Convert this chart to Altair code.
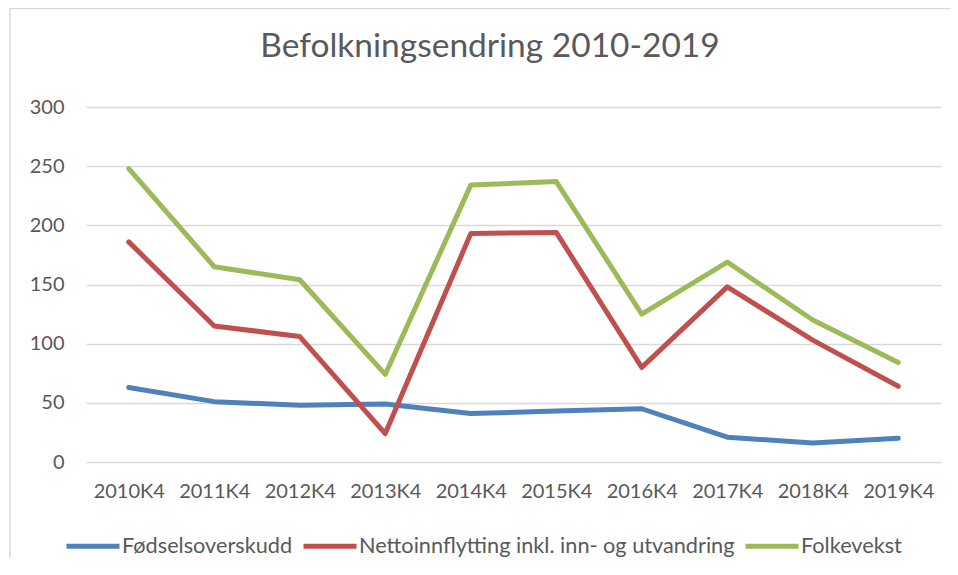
import altair as alt
import pandas as pd

categories = ["2010K4", "2011K4", "2012K4", "2013K4", "2014K4",
              "2015K4", "2016K4", "2017K4", "2018K4", "2019K4"]
fodselsoverskudd = [63, 51, 48, 49, 41, 43, 45, 21, 16, 20]
nettoinnflytting = [186, 115, 106, 24, 193, 194, 80, 148, 103, 64]
folkevekst = [248, 165, 154, 74, 234, 237, 125, 169, 120, 84]

series_names = ["Fødselsoverskudd", "Nettoinnflytting inkl. inn- og utvandring", "Folkevekst"]
series_colors = ["#4F81BD", "#C0504D", "#9BBB59"]
y_ticks = [0, 50, 100, 150, 200, 250, 300]
chart_title = "Befolkningsendring 2010-2019"

rows = []
for name, vals in zip(series_names, [fodselsoverskudd, nettoinnflytting, folkevekst]):
    for c, v in zip(categories, vals):
        rows.append({"kvartal": c, "verdi": v, "serie": name})
df = pd.DataFrame(rows)

FONT = "Lato"
GREY = "#595959"

lines = alt.Chart(df).mark_line(strokeWidth=5, strokeCap="round", strokeJoin="round").encode(
    x=alt.X("kvartal:N", sort=categories, title=None,
            scale=alt.Scale(type="point", padding=0.5),
            axis=alt.Axis(labelAngle=0, domain=False, ticks=False, grid=False,
                          labelFontSize=20, labelColor=GREY, labelFont=FONT,
                          labelPadding=19)),
    y=alt.Y("verdi:Q", title=None,
            scale=alt.Scale(domain=[0, 300], nice=False),
            axis=alt.Axis(values=y_ticks, domain=False, ticks=False, grid=True,
                          gridColor="#d9d9d9", gridWidth=1.5,
                          labelFontSize=20, labelColor=GREY, labelFont=FONT,
                          labelPadding=22)),
    color=alt.Color("serie:N", sort=series_names,
                    scale=alt.Scale(domain=series_names, range=series_colors),
                    legend=alt.Legend(title=None, orient="none", direction="horizontal",
                                      legendX=-22, legendY=410,
                                      symbolType="stroke", symbolSize=2809,
                                      symbolStrokeWidth=5, labelFontSize=21.7,
                                      labelColor=GREY, labelFont=FONT, labelLimit=0,
                                      labelOffset=0, columnPadding=0)),
    order=alt.Order("kvartal:N"),
)

border = alt.Chart(alt.Data(values=[{}])).mark_rect(
    fill=None, stroke="#d9d9d9", strokeWidth=1.5
).encode(
    x=alt.value(-76), x2=alt.value(900),
    y=alt.value(-98.5), y2=alt.value(500),
)

title_text = alt.Chart(alt.Data(values=[{"t": chart_title}])).mark_text(
    font=FONT, fontSize=33.5, color=GREY, align="center", baseline="alphabetic"
).encode(
    text="t:N", x=alt.value(404), y=alt.value(-50),
)

chart = alt.layer(border, title_text, lines).properties(
    width=855, height=355,
    padding={"left": 78, "top": 99, "right": 9, "bottom": 96},
    autosize=alt.AutoSizeParams(type="none"),
).configure_view(stroke=None)

chart.save("out.html", embed_options={"renderer": "svg", "actions": False})
